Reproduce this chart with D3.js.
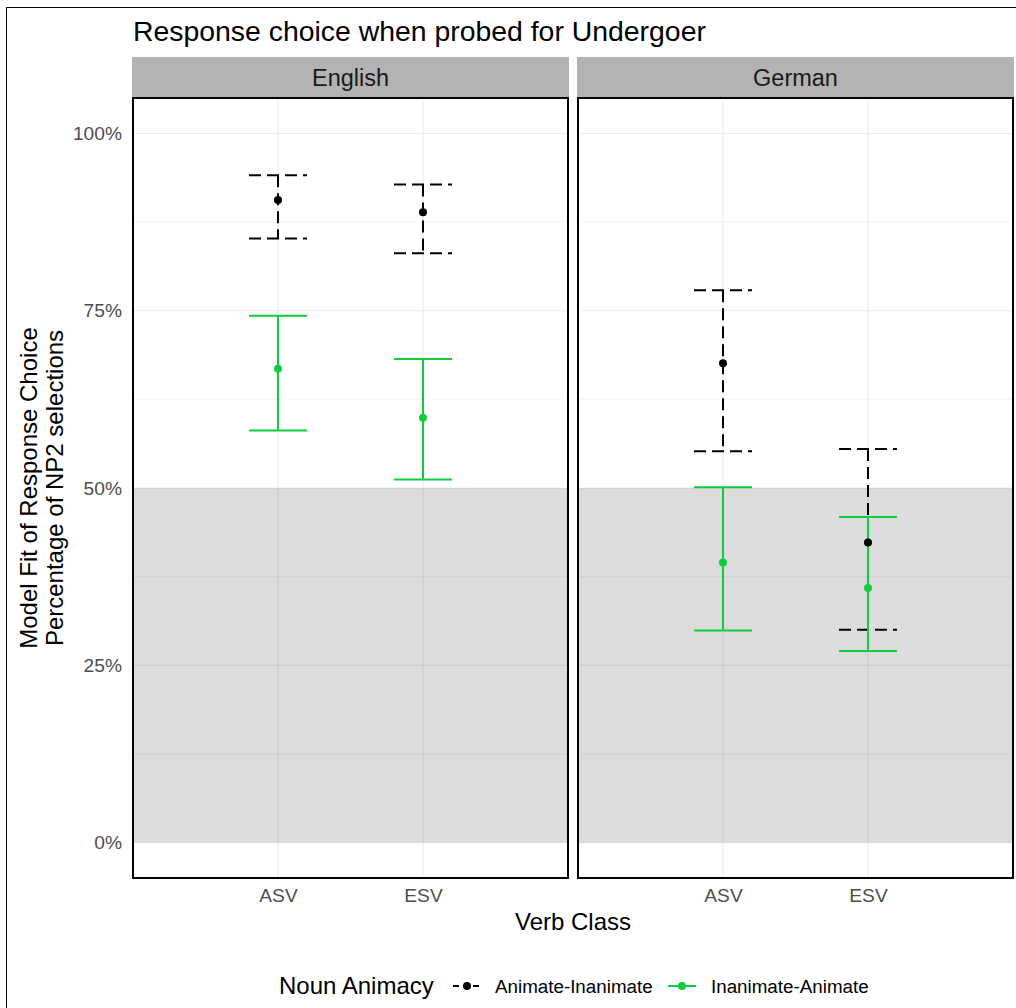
<!DOCTYPE html>
<html>
<head>
<meta charset="utf-8">
<script src="https://cdn.jsdelivr.net/npm/d3@7"></script>
<style>
  body { margin: 0; background: #fff; }
  text { font-family: "Liberation Sans", Arial, sans-serif; }
</style>
</head>
<body>
<script>
// data (cells ordered English ASV, English ESV, German ASV, German ESV)
var languages = ["English", "German"];
var verbClasses = ["ASV", "ESV"];
var animacy = ["Animate-Inanimate", "Inanimate-Animate"];

var fitAI  = [0.906, 0.889, 0.676, 0.423];
var lowAI  = [0.852, 0.831, 0.552, 0.300];
var highAI = [0.941, 0.928, 0.779, 0.555];

var fitIA  = [0.668, 0.599, 0.395, 0.359];
var lowIA  = [0.581, 0.512, 0.299, 0.270];
var highIA = [0.743, 0.682, 0.501, 0.459];

var yTicks = [0, 0.25, 0.5, 0.75, 1];
var yMinor = [0.125, 0.375, 0.625, 0.875];

// layout
var width = 1016, height = 1008;
var panelTop = 98, panelBottom = 878, stripTop = 57;
var panelX = [133, 578], panelW = 435;
var colors = { "Animate-Inanimate": "#000000", "Inanimate-Animate": "#0fcc3e" };
var dash = { "Animate-Inanimate": "12,6", "Inanimate-Animate": null };

var svg = d3.select("body").append("svg")
    .attr("width", width)
    .attr("height", height);

svg.append("rect")
    .attr("x", 6.5).attr("y", 7.5)
    .attr("width", 1100).attr("height", 1100)
    .attr("fill", "#fff")
    .attr("stroke", "#000")
    .attr("stroke-width", 1);

var y = d3.scaleLinear()
    .domain([-0.05, 1.05])
    .range([panelBottom, panelTop]);

// build series rows
var series = [
    { key: animacy[0], fit: fitAI, low: lowAI, high: highAI },
    { key: animacy[1], fit: fitIA, low: lowIA, high: highIA }
];

languages.forEach(function(lang, li){
    var x0 = panelX[li];
    var x = d3.scalePoint()
        .domain(verbClasses)
        .range([x0, x0 + panelW])
        .padding(1);
    var capHalf = x.step() * 0.2;

    var g = svg.append("g").attr("class", "panel " + lang);

    // minor grid
    g.selectAll(".minor").data(yMinor).enter().append("line")
        .attr("x1", x0).attr("x2", x0 + panelW)
        .attr("y1", function(d){ return y(d); })
        .attr("y2", function(d){ return y(d); })
        .attr("stroke", "#ededed").attr("stroke-width", 0.6);

    // major grid
    g.selectAll(".major").data(yTicks).enter().append("line")
        .attr("x1", x0).attr("x2", x0 + panelW)
        .attr("y1", function(d){ return y(d); })
        .attr("y2", function(d){ return y(d); })
        .attr("stroke", "#ebebeb").attr("stroke-width", 1.1);

    g.selectAll(".vgrid").data(verbClasses).enter().append("line")
        .attr("x1", function(d){ return x(d); })
        .attr("x2", function(d){ return x(d); })
        .attr("y1", panelTop).attr("y2", panelBottom)
        .attr("stroke", "#ebebeb").attr("stroke-width", 1.1);

    // shaded region below 50%
    g.append("rect")
        .attr("x", x0).attr("width", panelW)
        .attr("y", y(0.5)).attr("height", y(0) - y(0.5))
        .attr("fill", "#000").attr("fill-opacity", 0.137);

    // error bars
    series.forEach(function(s){
        verbClasses.forEach(function(v, vi){
            var i = li * 2 + vi;
            var cx = x(v), yl = y(s.low[i]), yh = y(s.high[i]);
            var p = d3.path();
            p.moveTo(cx - capHalf, yh); p.lineTo(cx + capHalf, yh);
            p.moveTo(cx, yh); p.lineTo(cx, yl);
            p.moveTo(cx - capHalf, yl); p.lineTo(cx + capHalf, yl);
            g.append("path")
                .attr("d", p.toString())
                .attr("fill", "none")
                .attr("stroke", colors[s.key])
                .attr("stroke-width", 2)
                .attr("stroke-dasharray", dash[s.key]);
        });
    });

    // points
    series.forEach(function(s){
        g.selectAll(".pt-" + li + s.key).data(verbClasses).enter().append("circle")
            .attr("cx", function(d){ return x(d); })
            .attr("cy", function(d, vi){ return y(s.fit[li * 2 + vi]); })
            .attr("r", 4)
            .attr("fill", colors[s.key]);
    });

    // panel border
    g.append("rect")
        .attr("x", x0).attr("y", panelTop)
        .attr("width", panelW).attr("height", panelBottom - panelTop)
        .attr("fill", "none").attr("stroke", "#000").attr("stroke-width", 2);

    // strip
    g.append("rect")
        .attr("x", x0 - 1).attr("y", stripTop)
        .attr("width", panelW + 2).attr("height", panelTop - stripTop - 1)
        .attr("fill", "#b3b3b3");
    g.append("text")
        .attr("x", x0 + panelW / 2).attr("y", (stripTop + panelTop) / 2)
        .attr("dy", "0.35em")
        .attr("text-anchor", "middle")
        .attr("font-size", 23.5)
        .attr("fill", "#1a1a1a")
        .text(lang);

    // x axis labels
    var xAxis = d3.axisBottom(x).tickSize(0).tickPadding(10);
    var ax = svg.append("g")
        .attr("transform", "translate(0," + panelBottom + ")")
        .call(xAxis);
    ax.select(".domain").remove();
    ax.selectAll("text")
        .attr("font-size", 19.2)
        .attr("fill", "#4d4d4d")
        .attr("font-family", "Liberation Sans, Arial, sans-serif");
});

// y axis
var yAxis = d3.axisLeft(y)
    .tickValues(yTicks)
    .tickSize(0)
    .tickPadding(11)
    .tickFormat(d3.format(".0%"));
var ay = svg.append("g")
    .attr("transform", "translate(" + panelX[0] + ",0)")
    .call(yAxis);
ay.select(".domain").remove();
ay.selectAll("text")
    .attr("font-size", 19.2)
    .attr("fill", "#4d4d4d")
    .attr("font-family", "Liberation Sans, Arial, sans-serif");

// title
svg.append("text")
    .attr("x", 133).attr("y", 41)
    .attr("font-size", 28.4)
    .attr("fill", "#000")
    .text("Response choice when probed for Undergoer");

// axis titles
svg.append("text")
    .attr("x", 573).attr("y", 930)
    .attr("text-anchor", "middle")
    .attr("font-size", 24)
    .text("Verb Class");

var yt = svg.append("text")
    .attr("transform", "translate(41," + y(0.5) + ") rotate(-90)")
    .attr("text-anchor", "middle")
    .attr("font-size", 24);
yt.append("tspan").attr("x", 0).attr("dy", "-0.15em").text("Model Fit of Response Choice");
yt.append("tspan").attr("x", 0).attr("dy", "1.05em").text("Percentage of NP2 selections");

// legend
var legY = 986;
svg.append("text")
    .attr("x", 279).attr("y", legY).attr("dy", "0.35em")
    .attr("font-size", 24)
    .text("Noun Animacy");

var legKeys = [
    { key: animacy[0], x: 453, tx: 495 },
    { key: animacy[1], x: 668, tx: 711 }
];
legKeys.forEach(function(k){
    svg.append("line")
        .attr("x1", k.x).attr("x2", k.x + 28)
        .attr("y1", legY).attr("y2", legY)
        .attr("stroke", colors[k.key])
        .attr("stroke-width", 2)
        .attr("stroke-dasharray", k.key === animacy[0] ? "6,4" : null);
    svg.append("circle")
        .attr("cx", k.x + 14).attr("cy", legY)
        .attr("r", 4).attr("fill", colors[k.key]);
    svg.append("text")
        .attr("x", k.tx).attr("y", legY).attr("dy", "0.35em")
        .attr("font-size", 18.8)
        .text(k.key);
});
</script>
</body>
</html>
